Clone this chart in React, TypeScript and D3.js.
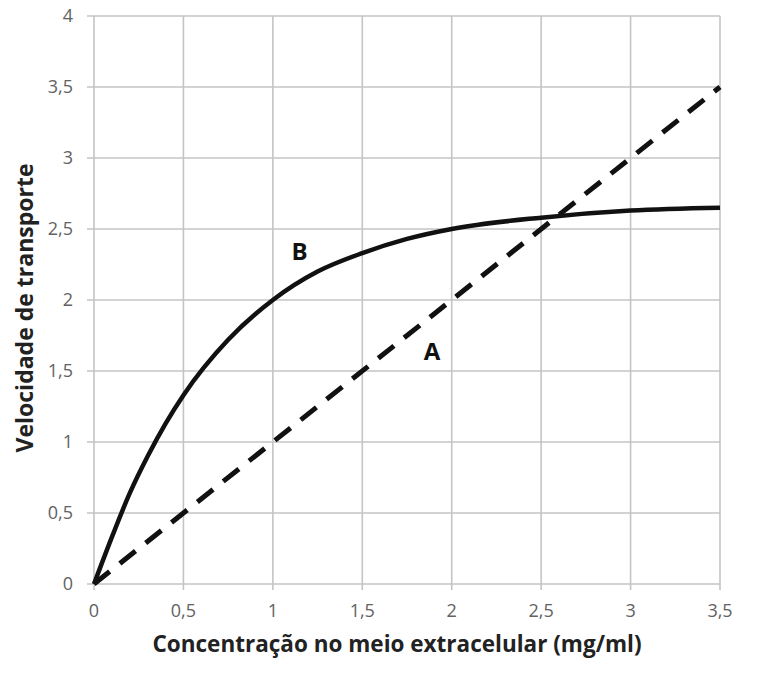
import { useRef, useEffect } from 'react'
import * as d3 from 'd3'

// x ticks / y ticks (decimal comma labels)
const xTicks: number[] = [0, 0.5, 1, 1.5, 2, 2.5, 3, 3.5]
const yTicks: number[] = [0, 0.5, 1, 1.5, 2, 2.5, 3, 3.5, 4]

// curve A (dashed, linear)
const concA: number[] = [0, 3.5]
const velA: number[] = [0, 3.5]

// curve B (solid, saturating)
const concB: number[] = [0, 0.1, 0.2, 0.3, 0.4, 0.5, 0.75, 1, 1.25, 1.5, 1.75, 2, 2.5, 3, 3.5]
const velB: number[] = [0, 0.33, 0.64, 0.9, 1.13, 1.33, 1.72, 2.0, 2.2, 2.33, 2.43, 2.5, 2.58, 2.63, 2.65]

const xTitle = 'Concentração no meio extracelular (mg/ml)'
const yTitle = 'Velocidade de transporte'

export default function App() {
  const svgRef = useRef(null)

  const width: number = 757
  const height: number = 678
  const margin = { left: 94, right: 37, top: 16, bottom: 94 }

  useEffect(() => {
    document.body.style.margin = '0'

    const svg = d3.select(svgRef.current)
    svg.selectAll('*').remove()

    const x = d3.scaleLinear().domain([0, 3.5]).range([margin.left, width - margin.right])
    const y = d3.scaleLinear().domain([0, 4]).range([height - margin.bottom, margin.top])
    const fmt = (v: number) => String(v).replace('.', ',')
    const font = '"Open Sans", "Noto Sans", sans-serif'

    // grid
    const grid = svg.append('g').attr('stroke', '#c4c4c4').attr('stroke-width', 1.6)
    grid.selectAll('.h').data(yTicks).enter().append('line')
      .attr('x1', x(0) - 7).attr('x2', x(3.5))
      .attr('y1', d => y(d)).attr('y2', d => y(d))
    grid.selectAll('.v').data(xTicks).enter().append('line')
      .attr('x1', d => x(d)).attr('x2', d => x(d))
      .attr('y1', y(4)).attr('y2', y(0) + 6)

    // tick labels
    svg.append('g').selectAll('text').data(yTicks).enter().append('text')
      .attr('x', x(0) - 21).attr('y', d => y(d) + 6)
      .attr('text-anchor', 'end')
      .attr('font-family', font).attr('font-size', 18).attr('fill', '#626262')
      .text(d => fmt(d))
    svg.append('g').selectAll('text').data(xTicks).enter().append('text')
      .attr('x', d => x(d)).attr('y', y(0) + 33)
      .attr('text-anchor', 'middle')
      .attr('font-family', font).attr('font-size', 18).attr('fill', '#626262')
      .text(d => fmt(d))

    // titles
    svg.append('text')
      .attr('x', 397).attr('y', 652)
      .attr('text-anchor', 'middle')
      .attr('font-family', font).attr('font-size', 22.5).attr('font-weight', 'bold').attr('fill', '#222')
      .text(xTitle)
    svg.append('text')
      .attr('transform', 'translate(33,' + 308 + ') rotate(-90)')
      .attr('text-anchor', 'middle')
      .attr('font-family', font).attr('font-size', 23).attr('font-weight', 'bold').attr('fill', '#222')
      .text(yTitle)

    // lines
    const line = d3.line<[number, number]>()
      .x(d => x(d[0])).y(d => y(d[1]))
      .curve(d3.curveMonotoneX)

    svg.append('path')
      .datum(concA.map((c, i) => [c, velA[i]] as [number, number]))
      .attr('d', line)
      .attr('fill', 'none').attr('stroke', '#111').attr('stroke-width', 5)
      .attr('stroke-dasharray', '20,13')

    svg.append('path')
      .datum(concB.map((c, i) => [c, velB[i]] as [number, number]))
      .attr('d', line)
      .attr('fill', 'none').attr('stroke', '#111').attr('stroke-width', 4.5)

    // curve labels
    svg.append('text')
      .attr('x', x(1.15)).attr('y', y(2.28))
      .attr('text-anchor', 'middle')
      .attr('font-family', font).attr('font-size', 24).attr('font-weight', 'bold').attr('fill', '#111')
      .text('B')
    svg.append('text')
      .attr('x', x(1.89)).attr('y', y(1.58))
      .attr('text-anchor', 'middle')
      .attr('font-family', font).attr('font-size', 24).attr('font-weight', 'bold').attr('fill', '#111')
      .text('A')
  }, [])

  return (
    <svg ref={svgRef} width={width} height={height} style={{ display: 'block', background: '#fff' }} />
  )
}
